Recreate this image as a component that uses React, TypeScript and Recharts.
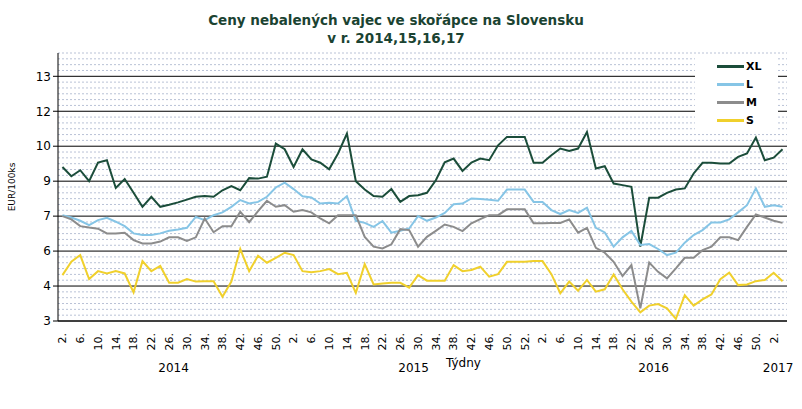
import React from 'react';
import { LineChart, Line, XAxis, YAxis, ReferenceLine, Legend, Label } from 'recharts';

// week numbers per year (two-week steps, end of 2015 is weekly)
const years = ['2014', '2015', '2016', '2017'];
const weeksByYear = [
  [2, 4, 6, 8, 10, 12, 14, 16, 18, 20, 22, 24, 26, 28, 30, 32, 34, 36, 38, 40, 42, 44, 46, 48, 50, 52],
  [2, 4, 6, 8, 10, 12, 14, 16, 18, 20, 22, 24, 26, 28, 30, 32, 34, 36, 38, 40, 42, 44, 46, 48, 50, 51, 52, 53],
  [2, 4, 6, 8, 10, 12, 14, 16, 18, 20, 22, 24, 26, 28, 30, 32, 34, 36, 38, 40, 42, 44, 46, 48, 50, 52],
  [2, 4],
];

// EUR/100ks
const xl = [
  9.61, 9.21, 9.47, 9.0, 9.8, 9.9, 8.71, 9.09, 8.5, 7.9, 8.33, 7.9, 7.99, 8.09, 8.21, 8.33, 8.36, 8.33, 8.61, 8.79,
  8.61, 9.13, 9.11, 9.19, 10.61, 10.37, 9.61, 10.37, 9.93, 9.79, 9.51, 10.19, 11.04, 9.0, 8.64, 8.36, 8.33, 8.66, 8.11, 8.36,
  8.4, 8.5, 9.04, 9.81, 9.97, 9.44, 9.8, 9.97, 9.9, 10.54, 10.9, 10.9, 10.9, 9.79, 9.79, 10.11, 10.4, 10.3, 10.4, 11.11,
  9.54, 9.64, 8.9, 8.83, 8.76, 6.19, 8.29, 8.29, 8.5, 8.64, 8.69, 9.33, 9.79, 9.79, 9.76, 9.76, 10.04, 10.19, 10.87, 9.9,
  10.01, 10.37,
];
const l = [
  7.54, 7.44, 7.3, 7.11, 7.33, 7.43, 7.26, 7.07, 6.76, 6.69, 6.69, 6.76, 6.87, 6.93, 7.0, 7.47, 7.33, 7.54, 7.66, 7.9,
  8.19, 8.04, 8.11, 8.33, 8.73, 8.94, 8.66, 8.35, 8.3, 8.04, 8.07, 8.04, 8.36, 7.3, 7.21, 7.04, 7.29, 6.79, 6.87, 6.97,
  7.5, 7.3, 7.44, 7.64, 8.01, 8.04, 8.26, 8.23, 8.2, 8.16, 8.64, 8.64, 8.64, 8.11, 8.11, 7.76, 7.59, 7.76, 7.64, 7.86,
  7.0, 6.8, 6.19, 6.59, 6.86, 6.26, 6.3, 6.09, 5.83, 5.93, 6.36, 6.69, 6.9, 7.23, 7.23, 7.36, 7.66, 7.97, 8.69, 7.9,
  7.97, 7.9,
];
const m = [
  7.5, 7.36, 7.07, 7.01, 6.96, 6.76, 6.76, 6.79, 6.47, 6.33, 6.33, 6.41, 6.59, 6.59, 6.44, 6.59, 7.4, 6.81, 7.07, 7.07,
  7.69, 7.24, 7.71, 8.16, 7.9, 7.97, 7.69, 7.76, 7.66, 7.4, 7.19, 7.54, 7.54, 7.54, 6.61, 6.19, 6.11, 6.29, 6.94, 6.9,
  6.19, 6.61, 6.87, 7.14, 7.04, 6.86, 7.19, 7.37, 7.54, 7.54, 7.79, 7.79, 7.79, 7.19, 7.19, 7.21, 7.21, 7.36, 6.79, 7.0,
  6.14, 5.93, 5.54, 4.93, 5.4, 3.54, 5.51, 5.11, 4.83, 5.26, 5.71, 5.71, 6.04, 6.19, 6.59, 6.59, 6.47, 7.04, 7.57, 7.44,
  7.3, 7.21,
];
const s = [
  4.97, 5.54, 5.83, 4.8, 5.14, 5.04, 5.14, 5.04, 4.23, 5.57, 5.14, 5.36, 4.64, 4.64, 4.8, 4.69, 4.71, 4.71, 4.04, 4.69,
  6.09, 5.14, 5.8, 5.5, 5.71, 5.93, 5.83, 5.14, 5.09, 5.14, 5.23, 5.01, 5.07, 4.21, 5.44, 4.57, 4.61, 4.64, 4.64, 4.43,
  4.97, 4.73, 4.73, 4.73, 5.4, 5.14, 5.19, 5.33, 4.9, 5.01, 5.54, 5.54, 5.54, 5.57, 5.57, 5.01, 4.19, 4.69, 4.3, 4.76,
  4.26, 4.36, 5.0, 4.36, 3.83, 3.37, 3.66, 3.73, 3.54, 3.09, 4.11, 3.66, 3.93, 4.14, 4.79, 5.07, 4.54, 4.57, 4.71, 4.76,
  5.07, 4.71,
];

const majorTicks = [3, 4.5, 6, 7.5, 9, 10.5, 12, 13.5];
const yMax = 14.5;

const series = [
  { key: 'xl', name: 'XL', color: '#1b4d3a' },
  { key: 'l', name: 'L', color: '#86c5e6' },
  { key: 'm', name: 'M', color: '#8c8c8c' },
  { key: 's', name: 'S', color: '#f0d02c' },
];

// build rows
const rows: any[] = [];
const yearCenters: number[] = [];
weeksByYear.forEach((wks, y) => {
  const start = rows.length;
  wks.forEach((wk, k) => {
    const i = rows.length;
    rows.push({ i, wk, year: years[y], showTick: k % 2 === 0, xl: xl[i], l: l[i], m: m[i], s: s[i] });
  });
  yearCenters.push((start + rows.length - 1) / 2);
});
const weekTicks = rows.filter((r) => r.showTick).map((r) => r.i);
const minorTicks: number[] = [];
for (let v = 3.25; v <= yMax + 0.001; v += 0.25) {
  if (!majorTicks.includes(v)) minorTicks.push(v);
}

const WeekTick = (props: any) => {
  const { x, y, payload } = props;
  const row = rows[payload.value];
  if (!row) return null;
  const ty = y + 4;
  return (
    <text x={x} y={ty} transform={`rotate(-90 ${x} ${ty})`} textAnchor='end' dy='0.35em' fontSize={11} fill='#000'>
      {row.wk}.
    </text>
  );
};

const LegendBox = () => (
  <div style={{ background: '#fff', width: 83, height: 78, position: 'relative' }}>
    {series.map((sr, k) => (
      <div
        key={sr.key}
        style={{ position: 'absolute', left: 22, top: 6 + 18 * k, height: 12, display: 'flex', alignItems: 'center' }}
      >
        <div style={{ width: 27, height: 3, background: sr.color }} />
        <span style={{ fontWeight: 'bold', fontSize: 11, marginLeft: 2, color: '#000', fontFamily: 'DejaVu Sans' }}>
          {sr.name}
        </span>
      </div>
    ))}
  </div>
);

export default function App() {
  return (
    <div style={{ position: 'absolute', left: 0, top: 0, width: 802, height: 409, background: '#fff', fontFamily: 'DejaVu Sans' }}>
      <div
        style={{
          position: 'absolute',
          left: 0,
          top: 11,
          width: 792,
          textAlign: 'center',
          color: '#1b4332',
          fontWeight: 'bold',
          fontSize: 13.5,
          lineHeight: '18px',
          zIndex: 2,
        }}
      >
        Ceny nebalených vajec ve skořápce na Slovensku
        <br />v r. 2014,15,16,17
      </div>
      <LineChart width={802} height={409} data={rows} margin={{ top: 53, right: 15, bottom: 29, left: 0 }}>
        <XAxis
          dataKey='i'
          type='number'
          domain={[0, rows.length - 1]}
          ticks={weekTicks}
          interval={0}
          tick={<WeekTick />}
          tickLine={false}
          axisLine={{ stroke: '#000' }}
          padding={{ left: 4.45, right: 4.45 }}
          height={34}
        />
        <XAxis
          xAxisId='year'
          dataKey='i'
          type='number'
          domain={[0, rows.length - 1]}
          ticks={yearCenters}
          interval={0}
          tickFormatter={(v: number) => years[yearCenters.indexOf(v)]}
          tick={{ fontSize: 12, fill: '#000' }}
          tickLine={false}
          axisLine={false}
          padding={{ left: 4.45, right: 4.45 }}
          height={25}
        >
          <Label value='Týdny' position='insideTop' dx={41} offset={3} fontSize={12} fill='#000' />
        </XAxis>
        <YAxis
          domain={[3, yMax]}
          ticks={majorTicks}
          interval={0}
          tickFormatter={(v: number) => String(Math.floor(v))}
          tick={{ fontSize: 12, fill: '#000' }}
          tickLine={{ stroke: '#000' }}
          tickSize={5}
          axisLine={{ stroke: '#000' }}
          width={58}
        >
          <Label
            value='EUR/100ks'
            angle={-90}
            position='insideLeft'
            offset={12}
            fontSize={9}
            fill='#000'
            style={{ textAnchor: 'middle' }}
          />
        </YAxis>
        {minorTicks.map((v) => (
          <ReferenceLine key={'n' + v} y={v} stroke='#b9c2d6' strokeDasharray='2 2' strokeWidth={1} />
        ))}
        {majorTicks.map((v) => (
          <ReferenceLine key={'j' + v} y={v} stroke='#000' strokeWidth={1} />
        ))}
        {series.map((sr) => (
          <Line
            key={sr.key}
            type='linear'
            dataKey={sr.key}
            name={sr.name}
            stroke={sr.color}
            strokeWidth={2}
            dot={false}
            isAnimationActive={false}
          />
        ))}
        <Legend
          content={<LegendBox />}
          layout='horizontal'
          verticalAlign='middle'
          align='center'
          wrapperStyle={{ left: 695, top: 54, width: 83, height: 78 }}
        />
      </LineChart>
    </div>
  );
}
